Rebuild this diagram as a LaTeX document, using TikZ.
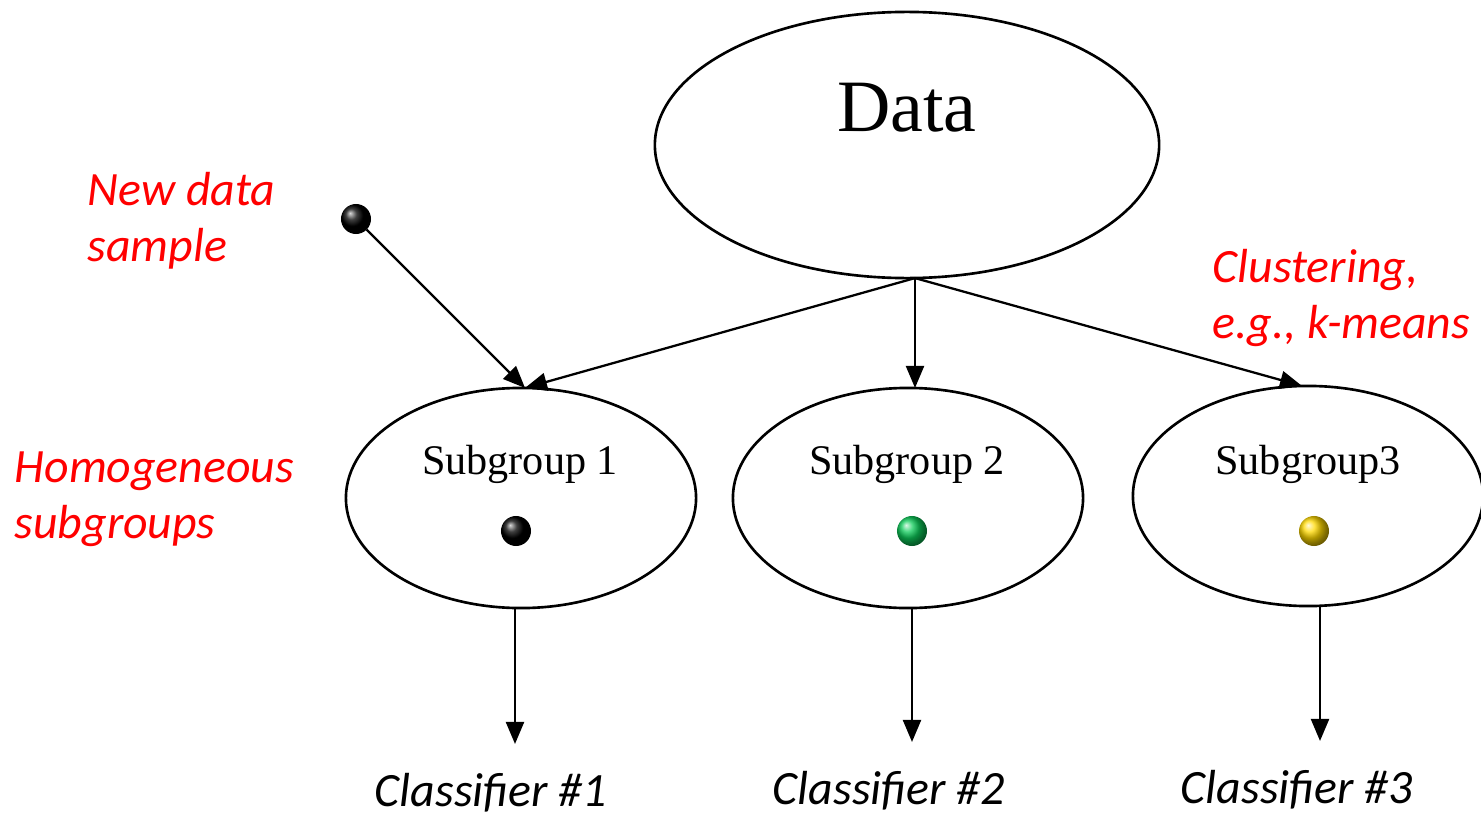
\documentclass[tikz,border=0pt]{standalone}
\usepackage{fontspec}
\setmainfont{Liberation Serif}
\newfontfamily\carlito{Carlito}
\usepackage{tikz}
\usetikzlibrary{positioning,arrows.meta,shapes.geometric}
\definecolor{rougevif}{rgb}{1,0,0}
\definecolor{vertboule}{rgb}{0.05,0.8,0.35}
\definecolor{jauneboule}{rgb}{1.0,0.85,0.0}

\begin{document}
\begin{tikzpicture}[x=0.01cm,y=-0.01cm]
  \tikzset{
    ovale/.style={ellipse,draw,line width=0.75pt,inner sep=0pt,outer sep=0pt},
    petit ovale/.style={ovale,minimum width=3.5cm,minimum height=2.2cm},
    boule/.style={circle,inner sep=0pt,outer sep=0pt,minimum size=3mm},
    fleche/.style={-{Triangle[length=2.2mm,width=1.8mm]},line width=0.65pt},
    legende/.style={font=\carlito\itshape\fontsize{13.6}{16}\selectfont,
      align=left,text=rougevif,anchor=west,inner sep=0pt},
    classif/.style={font=\carlito\itshape\fontsize{13.6}{16}\selectfont,
      anchor=base,inner xsep=0pt,inner ysep=8pt},
    titre/.style={anchor=base,inner sep=0pt},
  }
  \useasboundingbox (0,0) rectangle (1481,815);

  % grand ovale des donnees
  \node[ovale,minimum width=5.04cm,minimum height=2.66cm] (data) at (907,145) {};
  \node[titre,font=\fontsize{21}{25}\selectfont] (datatxt) at (907,131) {Data};

  % sous-groupes
  \node[petit ovale] (s1) at (521,498) {};
  \node[petit ovale] (s2) at (908,498) {};
  \node[petit ovale] (s3) at (1308,496) {};
  \node[titre,font=\fontsize{12}{14}\selectfont] (t1) at (520,474) {Subgroup 1};
  \node[titre,font=\fontsize{12}{14}\selectfont] (t2) at (907,474) {Subgroup 2};
  \node[titre,font=\fontsize{12}{14}\selectfont] (t3) at (1308,474) {Subgroup3};

  % boules
  \node[boule,ball color=black] (nouveau) at (356,219) {};
  \node[boule,ball color=black] (b1) at (516,531) {};
  \node[boule,ball color=vertboule] (b2) at (912,531) {};
  \node[boule,ball color=jauneboule] (b3) at (1314,531) {};

  % classifieurs
  \node[classif] (c1) at (491,806) {Classifier \#1};
  \node[classif] (c2) at (889,804) {Classifier \#2};
  \node[classif] (c3) at (1297,803) {Classifier \#3};

  % legendes rouges
  \node[legende] (lnew) at (87,221) {New data\\sample};
  \node[legende] (lhomo) at (14,499) {Homogeneous\\subgroups};
  \node[legende] (lclust) at (1212,298) {Clustering,\\e.g., k-means};

  % fleches
  \draw[fleche] (nouveau) -- ([xshift=0.04cm]s1.north);
  \draw[fleche] ([xshift=0.08cm]data.south) -- ([xshift=0.04cm]s1.north);
  \draw[fleche] ([xshift=0.08cm]data.south) -- ([xshift=0.07cm]s2.north);
  \draw[fleche] ([xshift=0.08cm]data.south) -- ([xshift=-0.06cm]s3.north);
  \draw[fleche] ([xshift=-0.06cm]s1.south) -- ([xshift=-0.06cm]s1.south |- c1.north);
  \draw[fleche] ([xshift=0.04cm]s2.south) -- ([xshift=0.04cm]s2.south |- c2.north);
  \draw[fleche] ([xshift=0.12cm]s3.south) -- ([xshift=0.12cm]s3.south |- c3.north);
\end{tikzpicture}
\end{document}
